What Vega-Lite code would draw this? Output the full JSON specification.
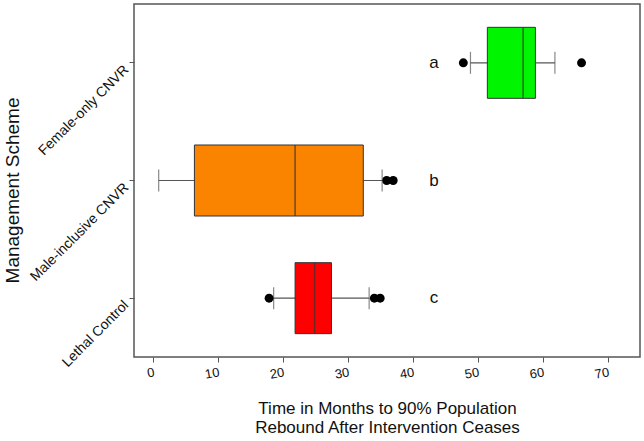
{
  "$schema": "https://vega.github.io/schema/vega-lite/v6.json",
  "width": 506,
  "height": 353,
  "autosize": {"type": "none"},
  "padding": {"left": 134, "top": 4, "right": 4, "bottom": 84},
  "background": "white",
  "config": {
    "font": "Liberation Sans",
    "view": {"stroke": "#555555", "strokeWidth": 1.5},
    "axis": {"grid": false, "domain": false, "tickColor": "#555555", "labelColor": "#111111", "titleColor": "#111111", "titleFontWeight": "normal", "labelFont": "Liberation Sans", "titleFont": "Liberation Sans"}
  },
  "datasets": {
    "boxes": [
      {"scheme": "Female-only CNVR", "lo": 48.9, "q1": 51.5, "median": 57.0, "q3": 58.9, "hi": 61.9, "letter": "a", "letter_x": 43.3},
      {"scheme": "Male-inclusive CNVR", "lo": 0.9, "q1": 6.4, "median": 21.9, "q3": 32.4, "hi": 35.3, "letter": "b", "letter_x": 43.3},
      {"scheme": "Lethal Control", "lo": 18.6, "q1": 21.9, "median": 24.9, "q3": 27.5, "hi": 33.3, "letter": "c", "letter_x": 43.3}
    ],
    "outliers": [
      {"scheme": "Female-only CNVR", "value": 47.8},
      {"scheme": "Female-only CNVR", "value": 66.0},
      {"scheme": "Male-inclusive CNVR", "value": 36.0},
      {"scheme": "Male-inclusive CNVR", "value": 37.0},
      {"scheme": "Lethal Control", "value": 17.9},
      {"scheme": "Lethal Control", "value": 34.1},
      {"scheme": "Lethal Control", "value": 35.0}
    ]
  },
  "encoding": {
    "y": {
      "field": "scheme", "type": "nominal",
      "sort": ["Female-only CNVR", "Male-inclusive CNVR", "Lethal Control"],
      "scale": {"paddingInner": 0, "paddingOuter": 0},
      "axis": {"title": "Management Scheme", "titleFontSize": 19, "titleX": -122, "titleY": 186, "titleAngle": -90, "titleAlign": "center", "titleBaseline": "middle", "labelAngle": -45, "labelAlign": "right", "labelBaseline": "middle", "labelFontSize": 14, "labelPadding": 3, "labelOffset": 5, "tickSize": 5}
    }
  },
  "layer": [
    {
      "data": {"name": "boxes"},
      "mark": {"type": "rule", "color": "#555555", "strokeWidth": 1.2},
      "encoding": {
        "x": {"field": "lo", "type": "quantitative",
          "scale": {"domain": [-2.9, 75], "nice": false, "zero": false},
          "axis": {"values": [0, 10, 20, 30, 40, 50, 60, 70], "title": ["Time in Months to 90% Population", "Rebound After Intervention Ceases"], "titleFontSize": 17, "titlePadding": 19, "labelFontSize": 13, "labelAngle": -10, "labelPadding": 4, "tickSize": 5}},
        "x2": {"field": "hi"}
      }
    },
    {
      "data": {"name": "boxes"},
      "mark": {"type": "tick", "color": "#555555", "size": 22, "thickness": 1.2},
      "encoding": {"x": {"field": "lo", "type": "quantitative"}}
    },
    {
      "data": {"name": "boxes"},
      "mark": {"type": "tick", "color": "#555555", "size": 22, "thickness": 1.2},
      "encoding": {"x": {"field": "hi", "type": "quantitative"}}
    },
    {
      "data": {"name": "boxes"},
      "mark": {"type": "bar", "size": 71, "stroke": "#333333", "strokeWidth": 1},
      "encoding": {
        "x": {"field": "q1", "type": "quantitative"},
        "x2": {"field": "q3"},
        "color": {"field": "scheme", "type": "nominal", "legend": null,
          "scale": {"domain": ["Female-only CNVR", "Male-inclusive CNVR", "Lethal Control"], "range": ["#00F500", "#FA8300", "#FF0000"]}}
      }
    },
    {
      "data": {"name": "boxes"},
      "mark": {"type": "tick", "color": "#333333", "size": 71, "thickness": 1.5},
      "encoding": {"x": {"field": "median", "type": "quantitative"}}
    },
    {
      "data": {"name": "outliers"},
      "mark": {"type": "circle", "color": "black", "size": 80, "opacity": 1},
      "encoding": {"x": {"field": "value", "type": "quantitative"}}
    },
    {
      "data": {"name": "boxes"},
      "mark": {"type": "text", "fontSize": 17, "color": "#111111", "align": "center", "baseline": "middle"},
      "encoding": {"x": {"field": "letter_x", "type": "quantitative"}, "text": {"field": "letter"}}
    }
  ]
}
